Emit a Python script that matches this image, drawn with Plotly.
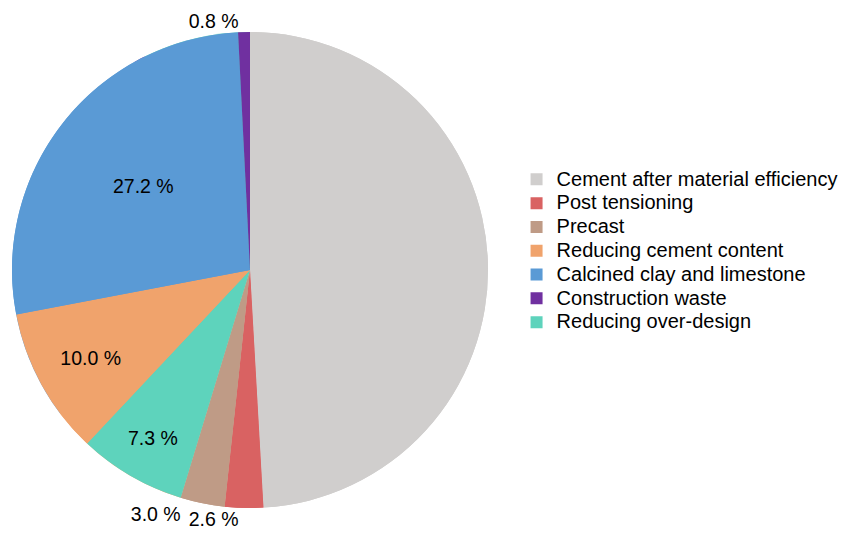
import plotly.graph_objects as go

# Legend order (as listed in the legend)
legend_labels = ["Cement after material efficiency", "Post tensioning", "Precast",
                 "Reducing cement content", "Calcined clay and limestone",
                 "Construction waste", "Reducing over-design"]
legend_values = [49.1, 2.6, 3.0, 10.0, 27.2, 0.8, 7.3]

# Slice order (clockwise from 12 o'clock)
slice_labels = ["Cement after material efficiency", "Post tensioning", "Precast",
                "Reducing over-design", "Reducing cement content",
                "Calcined clay and limestone", "Construction waste"]
slice_values = [49.1, 2.6, 3.0, 7.3, 10.0, 27.2, 0.8]

colors = {
    "Cement after material efficiency": "#D0CECD",
    "Post tensioning": "#D96262",
    "Precast": "#BF9B86",
    "Reducing cement content": "#F0A36C",
    "Calcined clay and limestone": "#5A9AD5",
    "Construction waste": "#7030A0",
    "Reducing over-design": "#5ED3BC",
}

FONT = "Liberation Sans, Arial, sans-serif"
LEGEND_TEXT_SIZE = 20
LABEL_SIZE = 19.5
NO_LABEL = "Cement after material efficiency"
SEPARATE_LABEL = "Post tensioning"   # label laid out in its own layer so it is not pushed down
PAD_LABEL = "Precast"

def fmt(v):
    return f"{v:.1f} %"

fig = go.Figure()

# Underlay trace that only carries the legend (in legend order)
fig.add_trace(go.Pie(
    labels=[f'<span style="font-size:{LEGEND_TEXT_SIZE}px">{l}</span>' for l in legend_labels],
    values=legend_values, sort=False,
    direction="clockwise", rotation=0,
    marker=dict(colors=[colors[l] for l in legend_labels], line=dict(width=0)),
    textinfo="none", hoverinfo="skip", showlegend=True,
))

texts, positions = [], []
for l, v in zip(slice_labels, slice_values):
    if l == NO_LABEL or l == SEPARATE_LABEL:
        texts.append("")
        positions.append("none")
    elif v >= 5:
        texts.append(fmt(v))
        positions.append("inside")
    else:
        texts.append(fmt(v) + ("\u00a0\u00a0\u00a0" if l == PAD_LABEL else ""))
        positions.append("outside")

# Main pie
fig.add_trace(go.Pie(
    labels=slice_labels, values=slice_values, sort=False,
    direction="clockwise", rotation=0,
    marker=dict(colors=[colors[l] for l in slice_labels], line=dict(width=0)),
    text=texts, textinfo="text", textposition=positions,
    insidetextorientation="horizontal",
    textfont=dict(family=FONT, size=LABEL_SIZE, color="black"),
    outsidetextfont=dict(family=FONT, size=LABEL_SIZE, color="black"),
    insidetextfont=dict(family=FONT, size=LABEL_SIZE, color="black"),
    showlegend=False,
))

# Transparent label layer (same geometry) for the separate label
texts_b = [fmt(v) if l == SEPARATE_LABEL else "" for l, v in zip(slice_labels, slice_values)]
pos_b = ["outside" if l == SEPARATE_LABEL else "none" for l in slice_labels]
fig.add_trace(go.Pie(
    labels=slice_labels, values=slice_values, sort=False,
    direction="clockwise", rotation=0,
    marker=dict(colors=["rgba(0,0,0,0)"] * len(slice_labels), line=dict(width=0)),
    text=texts_b, textinfo="text", textposition=pos_b,
    outsidetextfont=dict(family=FONT, size=LABEL_SIZE, color="black"),
    hoverinfo="skip", showlegend=False,
))

fig.update_layout(
    width=843, height=540,
    margin=dict(l=12, r=355, t=32, b=32, autoexpand=False),
    paper_bgcolor="white", plot_bgcolor="white",
    font=dict(family=FONT, size=16, color="black"),
    legend=dict(x=1.06, y=0.54, xanchor="left", yanchor="middle",
                font=dict(family=FONT, size=16, color="black"),
                bgcolor="rgba(0,0,0,0)"),
    showlegend=True,
)

fig.write_html("out.html")
